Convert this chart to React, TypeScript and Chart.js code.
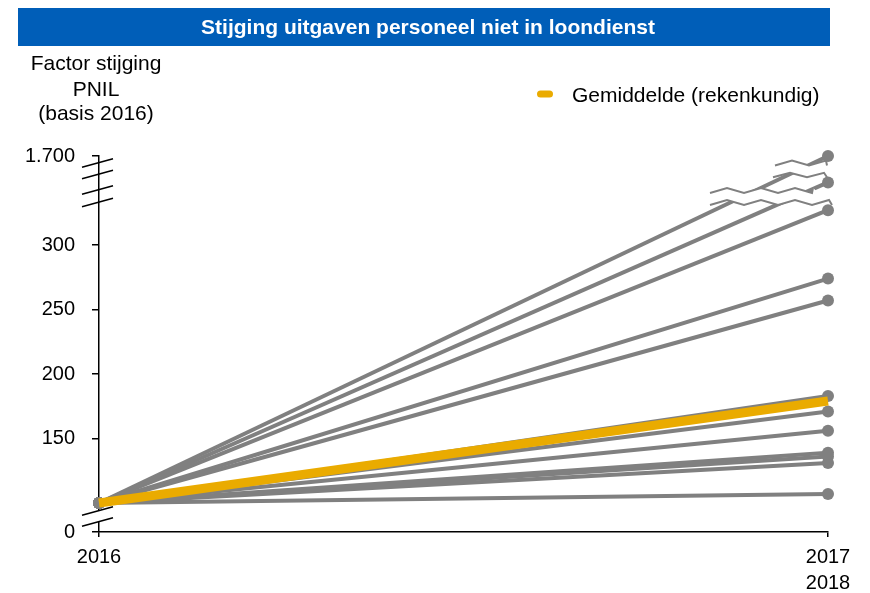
import React, { useEffect, useRef } from 'react';
import { Chart, registerables } from 'chart.js';

Chart.register(...registerables);

// ---------- data ----------
const categories: (string | string[])[] = ['2016', ['2017', '2018']];
const baseValue = 100;
const endValues = [1700, 980, 327, 274, 257, 183, 171, 156, 139, 136, 131, 107];
const meanValues = [100, 179];
const yTickValues = [0, 150, 200, 250, 300, 1700];
const yTickLabels = ['0', '150', '200', '250', '300', '1.700'];
const chartTitle = 'Stijging uitgaven personeel niet in loondienst';
const yAxisTitle = ['Factor stijging', 'PNIL', '(basis 2016)'];
const legendLabel = 'Gemiddelde (rekenkundig)';

// ---------- broken-axis mapping ----------
const ZERO_DISPLAY = 77.5;
const BREAK_LOW = 330;
const BREAK_TOP_REAL = 1700;
const BREAK_TOP_DISPLAY = 369;
function toDisplay(v: number): number {
  if (v <= 0) return ZERO_DISPLAY;
  if (v < 90) return ZERO_DISPLAY + (v * (90 - ZERO_DISPLAY)) / 90;
  if (v <= BREAK_LOW) return v;
  return BREAK_LOW + ((v - BREAK_LOW) * (BREAK_TOP_DISPLAY - BREAK_LOW)) / (BREAK_TOP_REAL - BREAK_LOW);
}

const FONT = "'Liberation Sans', Arial, sans-serif";
const GRAY = '#808080';
const YELLOW = '#EAAB00';
const BLUE = '#005EB8';

function zigzag(x0: number, x1: number, yMid: number, amp: number, step: number, startUp: boolean) {
  const pts: [number, number][] = [];
  let up = startUp;
  for (let x = x0; x < x1; x += step) {
    pts.push([x, yMid + (up ? -amp : amp)]);
    up = !up;
  }
  pts.push([x1, yMid + (up ? -amp : amp)]);
  return pts;
}

const decorPlugin = {
  id: 'decor',
  beforeDraw(chart: any) {
    const ctx: CanvasRenderingContext2D = chart.ctx;
    ctx.save();
    ctx.fillStyle = '#ffffff';
    ctx.fillRect(0, 0, chart.width, chart.height);
    // title bar
    ctx.fillStyle = BLUE;
    ctx.fillRect(18, 8, 812, 38);
    ctx.fillStyle = '#ffffff';
    ctx.font = `bold 21px ${FONT}`;
    ctx.textAlign = 'center';
    ctx.textBaseline = 'middle';
    ctx.fillText(chartTitle, 428, 28);
    // y axis title
    ctx.fillStyle = '#000';
    ctx.font = `21px ${FONT}`;
    ctx.textBaseline = 'alphabetic';
    const baselines = [70, 95.5, 120];
    yAxisTitle.forEach((t, i) => ctx.fillText(t, 96, baselines[i]));
    // legend
    ctx.fillStyle = YELLOW;
    ctx.beginPath();
    (ctx as any).roundRect(537, 90.5, 16, 7, 3.5);
    ctx.fill();
    ctx.fillStyle = '#000';
    ctx.textAlign = 'left';
    ctx.textBaseline = 'middle';
    ctx.fillText(legendLabel, 572, 96);
    ctx.restore();
  },
  afterDatasetsDraw(chart: any) {
    const ctx: CanvasRenderingContext2D = chart.ctx;
    const { left, right, top, bottom } = chart.chartArea;
    ctx.save();
    // zigzag breaks on the lines
    const bands = [
      { a: zigzag(right - 53, right - 1, top + 7, 2.5, 17, false), b: zigzag(right - 55, right - 1, top + 19, 2.2, 17, false) },
      { a: zigzag(right - 118, right - 15, top + 34.5, 2.5, 17, false), b: zigzag(right - 118, right + 4, top + 46.5, 2.5, 17, false) },
    ];
    bands.forEach(({ a, b }) => {
      ctx.fillStyle = '#ffffff';
      ctx.beginPath();
      a.forEach(([x, y], i) => (i === 0 ? ctx.moveTo(x, y) : ctx.lineTo(x, y)));
      for (let i = b.length - 1; i >= 0; i--) ctx.lineTo(b[i][0], b[i][1]);
      ctx.closePath();
      ctx.fill();
      ctx.strokeStyle = GRAY;
      ctx.lineWidth = 2;
      [a, b].forEach((p) => {
        ctx.beginPath();
        p.forEach(([x, y], i) => (i === 0 ? ctx.moveTo(x, y) : ctx.lineTo(x, y)));
        ctx.stroke();
      });
    });
    // axis break slashes
    ctx.strokeStyle = '#000';
    ctx.lineWidth = 1.5;
    const slash = (cy: number) => {
      ctx.beginPath();
      ctx.moveTo(left - 17, cy + 4.2);
      ctx.lineTo(left + 14, cy - 4.2);
      ctx.stroke();
    };
    ctx.fillStyle = '#ffffff';
    ctx.fillRect(left - 3, bottom - 21, 6, 11);
    slash(bottom - 21);
    slash(bottom - 10);
    [7, 18.5, 34, 46.5].forEach((d) => slash(top + d));
    ctx.restore();
  },
};

export default function App() {
  const ref = useRef<HTMLCanvasElement | null>(null);
  useEffect(() => {
    if (!ref.current) return;
    const grayDatasets = endValues.map((v, i) => ({
      label: `serie ${i + 1}`,
      data: [toDisplay(baseValue), toDisplay(v)],
      borderColor: GRAY,
      backgroundColor: GRAY,
      borderWidth: 4,
      pointRadius: 6,
      pointBorderWidth: 0,
      pointBackgroundColor: GRAY,
      order: 1,
      clip: false as any,
    }));
    const chart = new Chart(ref.current, {
      type: 'line',
      data: {
        labels: categories as any,
        datasets: [
          {
            label: legendLabel,
            data: meanValues.map(toDisplay),
            borderColor: YELLOW,
            backgroundColor: YELLOW,
            borderWidth: 9,
            borderCapStyle: 'butt',
            pointRadius: 0,
            order: 0,
            clip: false as any,
          },
          ...grayDatasets,
        ],
      },
      options: {
        animation: false,
        responsive: false,
        devicePixelRatio: 1,
        layout: { padding: { top: 156, right: 42, left: 0, bottom: 0 } },
        plugins: { legend: { display: false }, title: { display: false }, tooltip: { enabled: false } },
        scales: {
          x: {
            type: 'category',
            offset: false,
            grid: { drawOnChartArea: false, drawTicks: true, tickLength: 5, color: '#000', lineWidth: 1.5 },
            border: { display: true, color: '#000', width: 1.5 },
            ticks: { color: '#000', font: { family: FONT, size: 20, lineHeight: 1.3 }, padding: 7, maxRotation: 0, autoSkip: false },
            afterFit: (s: any) => {
              s.height = 61;
            },
          },
          y: {
            type: 'linear',
            min: ZERO_DISPLAY,
            max: toDisplay(1700),
            afterBuildTicks: (s: any) => {
              s.ticks = yTickValues.map((v) => ({ value: toDisplay(v) }));
            },
            ticks: {
              color: '#000',
              font: { family: FONT, size: 20 },
              padding: 17,
              callback: (_v: any, i: number) => yTickLabels[i],
            },
            grid: { drawOnChartArea: false, drawTicks: true, tickLength: 7, color: '#000', lineWidth: 1.5 },
            border: { display: true, color: '#000', width: 1.5 },
            afterFit: (s: any) => {
              s.width = 99;
            },
          },
        },
      },
      plugins: [decorPlugin],
    });
    return () => chart.destroy();
  }, []);
  return (
    <div style={{ position: 'absolute', left: 0, top: 0, width: 870, height: 593 }}>
      <canvas ref={ref} width={870} height={593} />
    </div>
  );
}
